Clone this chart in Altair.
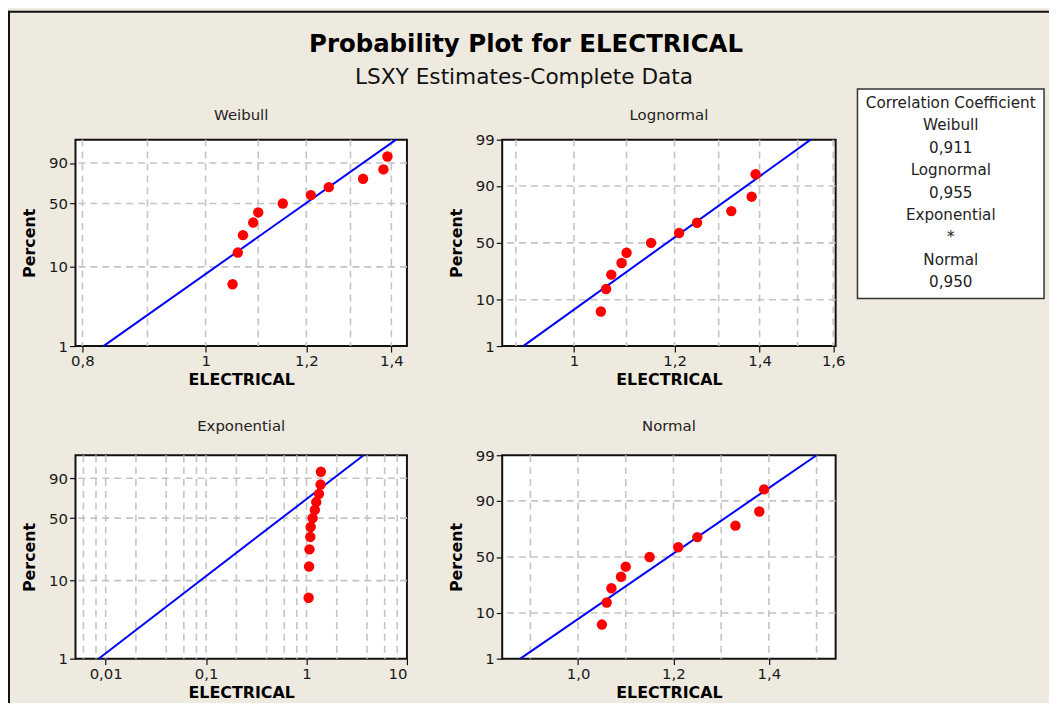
import math
from statistics import NormalDist

import altair as alt
import pandas as pd

# ---------------- data ----------------
electrical = [1.05, 1.06, 1.07, 1.09, 1.10, 1.15, 1.21, 1.25, 1.33, 1.38, 1.39]
percent = [6.1, 14.9, 23.7, 32.5, 41.2, 50.0, 58.8, 67.5, 76.3, 85.1, 93.9]

# LSXY fitted lines: end points (ELECTRICAL value at 1 % and at 99 %)
fit_p = [1, 99]
weib_fit_x = [0.831, 1.412]
logn_fit_x = [0.912, 1.536]
expo_fit_x = [0.0085, 3.7]
norm_fit_x = [0.879, 1.500]

corr_lines = ["Correlation Coefficient", "Weibull", "0,911", "Lognormal", "0,955",
              "Exponential", "*", "Normal", "0,950"]

# axes / ticks / grid
y_grid = [10, 50, 90]
weib_y_ticks = [1, 10, 50, 90]
prob_y_ticks = [1, 10, 50, 90, 99]

weib_x_domain = [0.79, 1.44]
weib_x_ticks = [0.8, 1.0, 1.2, 1.4]
weib_x_labels = ["0,8", "1", "1,2", "1,4"]
weib_x_grid = [0.8, 0.9, 1.0, 1.1, 1.2, 1.3, 1.4]

logn_x_domain = [0.878, 1.607]
logn_x_ticks = [1.0, 1.2, 1.4, 1.6]
logn_x_labels = ["1", "1,2", "1,4", "1,6"]
logn_x_grid = [0.9, 1.0, 1.1, 1.2, 1.3, 1.4, 1.5, 1.6]

expo_x_domain = [0.005, 10]
expo_x_ticks = [0.01, 0.1, 1, 10]
expo_x_labels = ["0,01", "0,1", "1", "10"]
expo_x_grid = [0.006, 0.008, 0.01, 0.02, 0.04, 0.06, 0.08, 0.1, 0.2, 0.4, 0.6,
               0.8, 1, 2, 4, 6, 8]

norm_x_domain = [0.841, 1.540]
norm_x_ticks = [1.0, 1.2, 1.4]
norm_x_labels = ["1,0", "1,2", "1,4"]
norm_x_grid = [0.9, 1.0, 1.1, 1.2, 1.3, 1.4, 1.5]

FONT = "DejaVu Sans"
GRID = "#c4c4c4"
BG = "#eeeae0"


def weib_t(p):
    return math.log(-math.log(1 - p / 100.0))


def probit(p):
    return NormalDist().inv_cdf(p / 100.0)


def label_expr(values, labels):
    expr = "''"
    for v, lab in reversed(list(zip(values, labels))):
        expr = f"abs(datum.value - ({v!r})) < 1e-6 ? '{lab}' : {expr}"
    return expr


def one():
    return pd.DataFrame({"a": [0]})


def panel(name, xtype, x_domain, x_ticks, x_labels, x_grid, yfn, y_ticks,
          fit_x, width, height, title_dy):
    if xtype == "log":
        xsc = alt.Scale(type="log", domain=x_domain, nice=False)
    else:
        xsc = alt.Scale(type="linear", domain=x_domain, nice=False, zero=False)
    ysc = alt.Scale(domain=[yfn(1), yfn(99)], nice=False, zero=False)
    yvals = [yfn(p) for p in y_ticks]
    xax = alt.Axis(values=x_ticks, labelExpr=label_expr(x_ticks, x_labels),
                   title="ELECTRICAL", grid=False, domain=False,
                   titleX=width / 2, titleY=34, titleBaseline="middle",
                   titleAlign="center")
    yax = alt.Axis(values=yvals, labelExpr=label_expr(yvals, [str(p) for p in y_ticks]),
                   title="Percent", grid=False, domain=False,
                   titleAngle=270, titleX=-46, titleY=height / 2,
                   titleBaseline="middle", titleAlign="center")
    X = alt.X("x:Q", scale=xsc, axis=xax)
    Y = alt.Y("y:Q", scale=ysc, axis=yax)

    gx = alt.Chart(pd.DataFrame({"x": x_grid})).mark_rule(
        color=GRID, strokeDash=[7, 5], strokeWidth=1.6).encode(x=X)
    gy = alt.Chart(pd.DataFrame({"y": [yfn(p) for p in y_grid]})).mark_rule(
        color=GRID, strokeDash=[7, 5], strokeWidth=1.6).encode(y=Y)
    fit = alt.Chart(pd.DataFrame({"x": fit_x, "y": [yfn(p) for p in fit_p]})).mark_line(
        color="#0000ff", strokeWidth=2).encode(x=X, y=Y)
    pts = alt.Chart(pd.DataFrame({"x": electrical, "y": [yfn(p) for p in percent]})).mark_circle(
        color="#ff0000", size=110, opacity=1).encode(x=X, y=Y)
    ttl = alt.Chart(one()).mark_text(
        text=name, font=FONT, fontSize=15, color="#222222", baseline="middle",
        align="center").encode(x=alt.value(width / 2), y=alt.value(-title_dy))
    return [gx, gy, fit, pts, ttl]


W1, W2 = 334, 336
H1, H2 = 208, 205

weib_layers = panel("Weibull", "log", weib_x_domain, weib_x_ticks, weib_x_labels,
                    weib_x_grid, weib_t, weib_y_ticks, weib_fit_x, W1, H1, 25)

# decorations placed relative to the Weibull panel (its plot area origin)
frame_left = alt.Chart(one()).mark_rule(color="#111111", strokeWidth=2).encode(
    x=alt.value(-67), y=alt.value(-130), y2=alt.value(600))
frame_top = alt.Chart(one()).mark_rule(color="#111111", strokeWidth=2).encode(
    x=alt.value(-68), x2=alt.value(1000), y=alt.value(-129))
main_title = alt.Chart(one()).mark_text(
    text="Probability Plot for ELECTRICAL", font=FONT, fontSize=24.6, fontWeight="bold",
    color="#000000", align="center", baseline="alphabetic").encode(
    x=alt.value(454), y=alt.value(-88))
sub_title = alt.Chart(one()).mark_text(
    text="LSXY Estimates-Complete Data", font=FONT, fontSize=21.8, color="#111111",
    align="center", baseline="alphabetic").encode(x=alt.value(452), y=alt.value(-56))
legend_box = alt.Chart(one()).mark_rect(
    fill="white", stroke="#333333", strokeWidth=1.5).encode(
    x=alt.value(788), x2=alt.value(976), y=alt.value(-51), y2=alt.value(160))
legend_texts = []
for i, line in enumerate(corr_lines):
    legend_texts.append(alt.Chart(one()).mark_text(
        text=line, font=FONT, fontSize=15.3, color="#222222", align="center",
        baseline="middle").encode(x=alt.value(882), y=alt.value(-37 + i * 22.6)))

weib = alt.layer(*weib_layers, frame_left, frame_top, main_title, sub_title,
                 legend_box, *legend_texts).properties(width=W1, height=H1)

logn = alt.layer(*panel("Lognormal", "log", logn_x_domain, logn_x_ticks, logn_x_labels,
                        logn_x_grid, probit, prob_y_ticks, logn_fit_x, W2, H1, 25)
                 ).properties(width=W2, height=H1)
expo = alt.layer(*panel("Exponential", "log", expo_x_domain, expo_x_ticks, expo_x_labels,
                        expo_x_grid, weib_t, weib_y_ticks, expo_fit_x, W1, H2, 29.5)
                 ).properties(width=W1, height=H2)
norm = alt.layer(*panel("Normal", "linear", norm_x_domain, norm_x_ticks, norm_x_labels,
                        norm_x_grid, probit, prob_y_ticks, norm_fit_x, W2, H2, 29.5)
                 ).properties(width=W2, height=H2)

chart = alt.concat(
    weib, logn, expo, norm, columns=2,
    spacing={"row": 110, "column": 96}, bounds="flush", align="each",
).properties(
    autosize=alt.AutoSizeParams(type="none"),
    padding={"left": 68, "top": 130, "right": 981, "bottom": 565},
    background=BG,
).configure_view(
    stroke="#111111", strokeWidth=2, fill="white"
).configure_axis(
    labelFont=FONT, labelFontSize=15, labelColor="#1a1a1a", labelPadding=2,
    tickSize=6, tickColor="#111111", tickWidth=1.2,
    titleFont=FONT, titleFontSize=16, titleFontWeight="bold", titleColor="#000000",
)

chart.save("out.html", embed_options={"renderer": "svg", "actions": False})
